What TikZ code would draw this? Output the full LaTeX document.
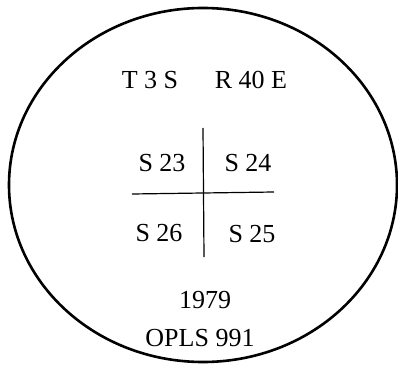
\documentclass[tikz,border=0pt]{standalone}
\usepackage{fontspec}
\setmainfont{Liberation Serif}
\begin{document}
\begin{tikzpicture}[x=1pt, y=-1pt,
  every node/.style={font=\fontsize{26}{30}\selectfont, inner sep=0pt},
  rule/.style={line width=1.2pt}]
  \useasboundingbox (0,0) rectangle (398,366);
  \draw[line width=2.6pt] (203,185) ellipse [x radius=194, y radius=177];

  \node (twp) at (150,80) {T 3 S};
  \node (rng) at (251,80) {R 40 E};

  \coordinate (vtop) at (203,128);
  \coordinate (vbot) at (204,257);
  \coordinate (hlft) at (132,194);
  \coordinate (hrgt) at (274,192);
  \draw[rule] (vtop) -- (vbot);
  \draw[rule] (hlft) -- (hrgt);

  \node (s23) at (162,163) {S 23};
  \node (s24) at (248,163) {S 24};
  \node (s26) at (159,233) {S 26};
  \node (s25) at (252,234) {S 25};

  \node (yr)  at (205,300) {1979};
  \node (ops) at (200,338) {OPLS 991};
\end{tikzpicture}
\end{document}
